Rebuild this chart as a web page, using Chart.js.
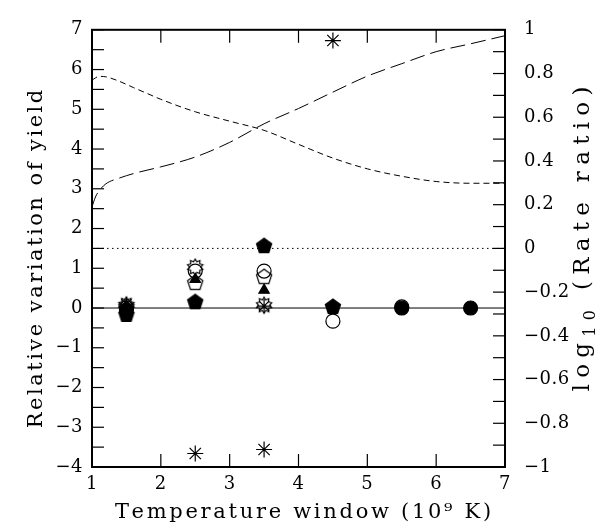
<!DOCTYPE html>
<html><head><meta charset="utf-8">
<script src="https://cdn.jsdelivr.net/npm/chart.js@4"></script>
<style>html,body{margin:0;padding:0;background:#fff}</style>
</head><body>
<canvas id="c" width="607" height="529" style="display:block;width:607px;height:529px"></canvas>
<script>
// ---- data ----
const windows = [1.5, 2.5, 3.5, 4.5, 5.5, 6.5];
const filledPentagon = [-0.15, 0.17, 1.58, 0.05, null, null];
const openCircle     = [0.0, 0.93, 0.93, -0.33, 0.03, null];
const openPentagon   = [0.05, 0.65, 0.80, null, null, null];
const filledTriangle = [0.05, 0.72, 0.45, null, null, null];
const openStar       = [0.08, 1.03, 0.07, null, null, null];
const hatched        = [0.1, null, 0.05, null, null, null];
const asterisk       = [null, -3.66, -3.56, 6.73, null, null];
const filledCircle   = [-0.05, null, null, null, 0.0, 0.0];

const curveT     = [1.0, 1.05, 1.1, 1.2, 1.4, 1.6, 1.8, 2.0, 2.5, 3.0, 3.5, 4.0, 4.5, 5.0, 5.5, 6.0, 6.5, 7.0];
const ratioShort = [0.769, 0.780, 0.787, 0.785, 0.764, 0.736, 0.709, 0.682, 0.625, 0.582, 0.540, 0.476, 0.413, 0.364, 0.330, 0.306, 0.298, 0.298];
const ratioLong  = [0.190, 0.235, 0.262, 0.295, 0.322, 0.342, 0.358, 0.373, 0.418, 0.485, 0.570, 0.640, 0.715, 0.788, 0.845, 0.900, 0.936, 0.973];

const xTicks = [1, 2, 3, 4, 5, 6, 7];
const xTitle = 'Temperature window (10\u2079 K)';
const yTitle = 'Relative variation of yield';
const y2TitleRuns = [['log', 0], ['10', 1], [' (Rate ratio)', 0]];

// ---- marker images ----
function pentagon(r, filled) {
  const s = Math.ceil(2 * r + 4), c = document.createElement('canvas');
  c.width = c.height = s;
  const g = c.getContext('2d');
  g.beginPath();
  for (let i = 0; i < 5; i++) {
    const a = -Math.PI / 2 + i * 2 * Math.PI / 5;
    g.lineTo(s / 2 + r * Math.cos(a), s / 2 + 1 + r * Math.sin(a));
  }
  g.closePath();
  g.lineWidth = 1.2; g.strokeStyle = '#000'; g.fillStyle = '#000';
  if (filled) g.fill(); g.stroke();
  return c;
}
function spikyStar(ro, ri, n) {
  const s = Math.ceil(2 * ro + 4), c = document.createElement('canvas');
  c.width = c.height = s;
  const g = c.getContext('2d');
  g.beginPath();
  for (let i = 0; i < 2 * n; i++) {
    const a = -Math.PI / 2 + i * Math.PI / n, r = i % 2 ? ri : ro;
    g.lineTo(s / 2 + r * Math.cos(a), s / 2 + r * Math.sin(a));
  }
  g.closePath();
  g.lineWidth = 1.2; g.strokeStyle = '#000'; g.stroke();
  return c;
}
const imgFilledPent = pentagon(8, true);
const imgOpenPent = pentagon(8, false);
const imgOpenStar = spikyStar(8, 5.5, 10);

function pts(vals) {
  const out = [];
  windows.forEach((x, i) => { if (vals[i] !== null) out.push({ x: x, y: vals[i] }); });
  return out;
}
function curve(vals) { return curveT.map((x, i) => ({ x: x, y: vals[i] })); }
function minus(v) { return String(v).replace('-', '\u2212'); }

const FAMILY = '"DejaVu Serif"';
const tickFont = { family: 'DejaVu Serif', size: 18 };

// draw text runs with extra letter spacing, centred at (0,0) baseline in current transform
function drawRuns(ctx, runs, size, subSize, spacing) {
  const items = [];
  runs.forEach(([t, sub]) => {
    for (const ch of t) {
      ctx.font = (sub ? subSize : size) + 'px ' + FAMILY;
      items.push({ ch, sub, w: ctx.measureText(ch).width });
    }
  });
  const total = items.reduce((s, it) => s + it.w, 0) + spacing * (items.length - 1);
  let x = -total / 2;
  items.forEach(it => {
    ctx.font = (it.sub ? subSize : size) + 'px ' + FAMILY;
    ctx.fillText(it.ch, x, it.sub ? 6 : 0);
    x += it.w + spacing;
  });
}

const frame = {
  id: 'frame',
  beforeDraw(chart) { try { chart.ctx.letterSpacing = '0.5px'; } catch (e) {} },
  afterDraw(chart) {
    const { ctx, chartArea: a, scales } = chart;
    ctx.save();
    try { ctx.letterSpacing = '0px'; } catch (e) {}
    ctx.strokeStyle = '#000';
    ctx.lineWidth = 1.2;
    const ln = (x1, y1, x2, y2) => { ctx.beginPath(); ctx.moveTo(x1, y1); ctx.lineTo(x2, y2); ctx.stroke(); };
    xTicks.forEach(v => {
      if (v === scales.x.min || v === scales.x.max) return;
      const px = scales.x.getPixelForValue(v);
      ln(px, a.bottom, px, a.bottom - 13);
      ln(px, a.top, px, a.top + 13);
    });
    for (let k = -8; k <= 14; k++) {
      const py = scales.y.getPixelForValue(k / 2);
      ln(a.left, py, a.left + 12, py);
    }
    for (let k = -10; k <= 10; k++) {
      const py = scales.y2.getPixelForValue(k / 10);
      ln(a.right - 12, py, a.right, py);
    }
    ctx.lineWidth = 2;
    ctx.strokeRect(a.left, a.top, a.right - a.left, a.bottom - a.top);

    ctx.fillStyle = '#000';
    ctx.textAlign = 'left';
    ctx.textBaseline = 'alphabetic';
    // bottom title
    ctx.save();
    ctx.translate(303, 518);
    drawRuns(ctx, [[xTitle, 0]], 21, 15, 2.7);
    ctx.restore();
    // left title
    ctx.save();
    ctx.translate(42, 259);
    ctx.rotate(-Math.PI / 2);
    drawRuns(ctx, [[yTitle, 0]], 21, 15, 2.5);
    ctx.restore();
    // right title
    ctx.save();
    ctx.translate(589, 239);
    ctx.rotate(-Math.PI / 2);
    drawRuns(ctx, y2TitleRuns, 23, 16, 6.3);
    ctx.restore();
    ctx.restore();
  }
};

const markerBase = { showLine: false, borderColor: '#000', backgroundColor: '#000', borderWidth: 1.2, yAxisID: 'y', order: 1 };

new Chart(document.getElementById('c'), {
  type: 'scatter',
  data: {
    datasets: [
      Object.assign({}, markerBase, { label: 'filled pentagon', data: pts(filledPentagon), pointStyle: imgFilledPent }),
      Object.assign({}, markerBase, { label: 'open circle', data: pts(openCircle), pointStyle: 'circle', pointRadius: 7, backgroundColor: 'rgba(0,0,0,0)' }),
      Object.assign({}, markerBase, { label: 'open pentagon', data: pts(openPentagon), pointStyle: imgOpenPent }),
      Object.assign({}, markerBase, { label: 'filled triangle', data: pts(filledTriangle), pointStyle: 'triangle', pointRadius: 6 }),
      Object.assign({}, markerBase, { label: 'open star', data: pts(openStar), pointStyle: imgOpenStar }),
      Object.assign({}, markerBase, { label: 'hatched', data: pts(hatched), pointStyle: 'star', pointRadius: 7 }),
      Object.assign({}, markerBase, { label: 'asterisk', data: pts(asterisk), pointStyle: 'star', pointRadius: 8 }),
      Object.assign({}, markerBase, { label: 'filled circle', data: pts(filledCircle), pointStyle: 'circle', pointRadius: 7 }),
      { label: 'zero', data: [{ x: 1, y: 0 }, { x: 7, y: 0 }], showLine: true, pointRadius: 0, borderColor: '#000', borderWidth: 1, yAxisID: 'y', order: 10 },
      { label: 'ratio zero', data: [{ x: 1, y: 0 }, { x: 7, y: 0 }], showLine: true, pointRadius: 0, borderColor: '#000', borderWidth: 1, borderDash: [1.5, 3.5], yAxisID: 'y2', order: 10 },
      { label: 'rate ratio A', data: curve(ratioShort), showLine: true, pointRadius: 0, borderColor: '#000', borderWidth: 1, borderDash: [6, 4], cubicInterpolationMode: 'monotone', yAxisID: 'y2', order: 10 },
      { label: 'rate ratio B', data: curve(ratioLong), showLine: true, pointRadius: 0, borderColor: '#000', borderWidth: 1, borderDash: [15, 6], cubicInterpolationMode: 'monotone', yAxisID: 'y2', order: 10 }
    ]
  },
  options: {
    responsive: false,
    animation: false,
    devicePixelRatio: 1,
    layout: { padding: { top: 15, left: 0, right: 0, bottom: 0 } },
    plugins: { legend: { display: false }, tooltip: { enabled: false } },
    scales: {
      x: {
        type: 'linear', position: 'bottom', min: 1, max: 7,
        grid: { display: false, drawTicks: false }, border: { display: false },
        ticks: { stepSize: 1, padding: 7, color: '#000', font: tickFont },
        title: { display: false, text: xTitle },
        afterFit(s) { s.height = 62; }
      },
      y: {
        type: 'linear', position: 'left', min: -4, max: 7,
        grid: { display: false, drawTicks: false }, border: { display: false },
        ticks: { stepSize: 1, padding: 9, color: '#000', font: tickFont, callback: v => minus(v) },
        title: { display: false, text: yTitle },
        afterFit(s) { s.width = 92; }
      },
      y2: {
        type: 'linear', position: 'right', min: -1, max: 1,
        grid: { display: false, drawTicks: false }, border: { display: false },
        ticks: { stepSize: 0.2, padding: 19, color: '#000', font: tickFont, callback: v => minus(Math.round(v * 10) / 10) },
        afterFit(s) { s.width = 102; }
      }
    }
  },
  plugins: [frame]
});
</script>
</body></html>
